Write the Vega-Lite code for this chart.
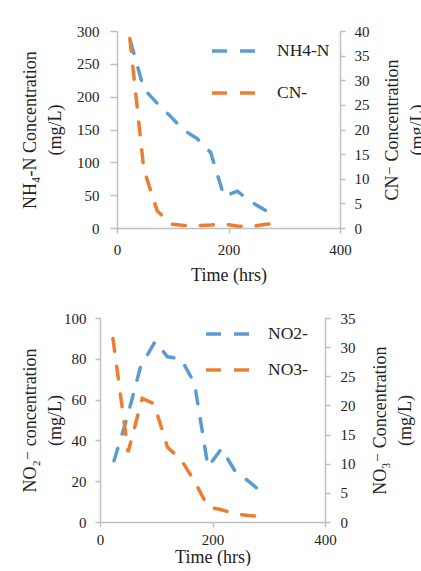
{
  "$schema": "https://vega.github.io/schema/vega-lite/v6.json",
  "padding": {"left": 20, "top": 24, "right": 0, "bottom": 0},
  "background": "white",
  "datasets": {
    "top": [
      {"series": "NH4-N", "time": 24, "value": 285},
      {"series": "NH4-N", "time": 48, "value": 212},
      {"series": "NH4-N", "time": 72, "value": 190},
      {"series": "NH4-N", "time": 96, "value": 170},
      {"series": "NH4-N", "time": 120, "value": 149},
      {"series": "NH4-N", "time": 144, "value": 136},
      {"series": "NH4-N", "time": 168, "value": 115},
      {"series": "NH4-N", "time": 192, "value": 48},
      {"series": "NH4-N", "time": 216, "value": 56},
      {"series": "NH4-N", "time": 240, "value": 40},
      {"series": "NH4-N", "time": 266, "value": 27},
      {"series": "CN-", "time": 23, "value": 38.5},
      {"series": "CN-", "time": 48, "value": 12},
      {"series": "CN-", "time": 72, "value": 3.5},
      {"series": "CN-", "time": 96, "value": 0.8},
      {"series": "CN-", "time": 120, "value": 0.5},
      {"series": "CN-", "time": 144, "value": 0.5},
      {"series": "CN-", "time": 168, "value": 0.6},
      {"series": "CN-", "time": 192, "value": 0.8},
      {"series": "CN-", "time": 216, "value": 0.4},
      {"series": "CN-", "time": 240, "value": 0.3},
      {"series": "CN-", "time": 264, "value": 0.7},
      {"series": "CN-", "time": 290, "value": 1.0}
    ],
    "bottom": [
      {"series": "NO2-", "time": 25, "value": 30},
      {"series": "NO2-", "time": 48, "value": 51},
      {"series": "NO2-", "time": 72, "value": 76},
      {"series": "NO2-", "time": 98, "value": 88.5},
      {"series": "NO2-", "time": 120, "value": 81},
      {"series": "NO2-", "time": 144, "value": 80},
      {"series": "NO2-", "time": 168, "value": 68},
      {"series": "NO2-", "time": 192, "value": 27},
      {"series": "NO2-", "time": 216, "value": 36},
      {"series": "NO2-", "time": 240, "value": 25},
      {"series": "NO2-", "time": 264, "value": 20},
      {"series": "NO2-", "time": 290, "value": 14},
      {"series": "NO3-", "time": 23, "value": 31.5},
      {"series": "NO3-", "time": 50, "value": 12},
      {"series": "NO3-", "time": 75, "value": 21.2},
      {"series": "NO3-", "time": 96, "value": 20.3},
      {"series": "NO3-", "time": 120, "value": 12.8},
      {"series": "NO3-", "time": 144, "value": 10.7},
      {"series": "NO3-", "time": 168, "value": 7},
      {"series": "NO3-", "time": 192, "value": 2.6},
      {"series": "NO3-", "time": 216, "value": 2.1},
      {"series": "NO3-", "time": 240, "value": 1.4},
      {"series": "NO3-", "time": 264, "value": 1.1},
      {"series": "NO3-", "time": 290, "value": 0.9}
    ],
    "empty": []
  },
  "concat": [
    {
      "hconcat": [
        {"width": 1, "height": 1, "data": {"name": "empty"}, "mark": "point"},
        {
          "width": 223,
          "height": 197,
          "data": {"name": "top"},
          "layer": [
            {
              "transform": [{"filter": "datum.series === 'NH4-N'"}],
              "mark": {"type": "line", "strokeWidth": 3.5, "strokeDash": [13, 15], "strokeCap": "round"},
              "encoding": {
                "x": {"field": "time", "type": "quantitative", "scale": {"domain": [0, 400]},
                      "axis": {"values": [0, 200, 400], "title": "Time (hrs)", "labelPadding": 9, "titlePadding": 9}},
                "y": {"field": "value", "type": "quantitative", "scale": {"domain": [0, 300]},
                      "axis": {"orient": "left", "values": [0, 50, 100, 150, 200, 250, 300], "title": ["NH₄-N Concentration", "(mg/L)"],
                               "tickSize": 7, "labelPadding": 11, "titlePadding": 12}},
                "color": {"field": "series", "type": "nominal",
                          "scale": {"domain": ["NH4-N", "CN-"], "range": ["#5B9BD5", "#ED7D31"]},
                          "legend": {"orient": "none", "legendX": 190, "legendY": -4, "title": null, "rowPadding": 9, "labelOffset": 19}}
              }
            },
            {
              "transform": [{"filter": "datum.series === 'CN-'"}],
              "mark": {"type": "line", "strokeWidth": 3.5, "strokeDash": [13, 15], "strokeCap": "round"},
              "encoding": {
                "x": {"field": "time", "type": "quantitative", "scale": {"domain": [0, 400]}},
                "y": {"field": "value", "type": "quantitative", "scale": {"domain": [0, 40]},
                      "axis": {"orient": "right", "values": [0, 5, 10, 15, 20, 25, 30, 35, 40], "title": ["CN⁻ Concentration", "(mg/L)"],
                               "titleAngle": 270, "titleBaseline": "top", "labelPadding": 9, "titlePadding": -11}},
                "color": {"field": "series", "type": "nominal",
                          "scale": {"domain": ["NH4-N", "CN-"], "range": ["#5B9BD5", "#ED7D31"]},
                          "legend": {"orient": "none", "legendX": 190, "legendY": -4, "title": null, "rowPadding": 9, "labelOffset": 19}}
              }
            }
          ],
          "resolve": {"scale": {"y": "independent"}}
        }
      ],
      "spacing": 0
    },
    {
      "hconcat": [
        {"width": 1, "height": 1, "data": {"name": "empty"}, "mark": "point"},
        {
          "width": 225,
          "height": 204,
          "data": {"name": "bottom"},
          "layer": [
            {
              "transform": [{"filter": "datum.series === 'NO2-'"}],
              "mark": {"type": "line", "strokeWidth": 3.5, "strokeDash": [13, 15], "strokeCap": "round"},
              "encoding": {
                "x": {"field": "time", "type": "quantitative", "scale": {"domain": [0, 400]},
                      "axis": {"values": [0, 200, 400], "title": "Time (hrs)", "labelPadding": 5, "titlePadding": 1}},
                "y": {"field": "value", "type": "quantitative", "scale": {"domain": [0, 100]},
                      "axis": {"orient": "left", "values": [0, 20, 40, 60, 80, 100], "title": ["NO₂⁻ concentration", "(mg/L)"],
                               "labelPadding": 9, "titlePadding": -1}},
                "color": {"field": "series", "type": "nominal",
                          "scale": {"domain": ["NO2-", "NO3-"], "range": ["#5B9BD5", "#ED7D31"]},
                          "legend": {"orient": "none", "legendX": 184, "legendY": -8, "title": null, "rowPadding": 3, "labelOffset": 16}}
              }
            },
            {
              "transform": [{"filter": "datum.series === 'NO3-'"}],
              "mark": {"type": "line", "strokeWidth": 3.5, "strokeDash": [13, 15], "strokeCap": "round"},
              "encoding": {
                "x": {"field": "time", "type": "quantitative", "scale": {"domain": [0, 400]}},
                "y": {"field": "value", "type": "quantitative", "scale": {"domain": [0, 35]},
                      "axis": {"orient": "right", "values": [0, 5, 10, 15, 20, 25, 30, 35], "title": ["NO₃⁻ Concentration", "(mg/L)"],
                               "titleAngle": 270, "titleBaseline": "top", "labelPadding": 10, "titlePadding": -9}},
                "color": {"field": "series", "type": "nominal",
                          "scale": {"domain": ["NO2-", "NO3-"], "range": ["#5B9BD5", "#ED7D31"]},
                          "legend": {"orient": "none", "legendX": 184, "legendY": -8, "title": null, "rowPadding": 3, "labelOffset": 16}}
              }
            }
          ],
          "resolve": {"scale": {"y": "independent"}}
        }
      ],
      "spacing": 0
    }
  ],
  "columns": 1,
  "spacing": 26,
  "resolve": {"scale": {"color": "independent"}, "legend": {"color": "independent"}},
  "config": {
    "font": "Liberation Serif, DejaVu Serif, serif",
    "view": {"stroke": null},
    "axis": {
      "grid": false,
      "domainColor": "#BFBFBF", "domainWidth": 1.5,
      "tickColor": "#BFBFBF", "tickWidth": 1.5, "tickSize": 5,
      "labelFont": "Liberation Serif, DejaVu Serif, serif", "labelFontSize": 15, "labelColor": "#222222",
      "titleFont": "Liberation Serif, DejaVu Serif, serif", "titleFontSize": 18, "titleFontWeight": "normal", "titleColor": "#222222",
      "titleLineHeight": 25, "labelFlush": false, "labelOverlap": false
    },
    "legend": {
      "padding": 0,
      "symbolType": "stroke", "symbolSize": 1936, "symbolStrokeWidth": 3.5, "symbolDash": [15, 13],
      "labelFont": "Liberation Serif, DejaVu Serif, serif", "labelFontSize": 17.5, "labelColor": "#222222", "labelLimit": 200
    }
  }
}
